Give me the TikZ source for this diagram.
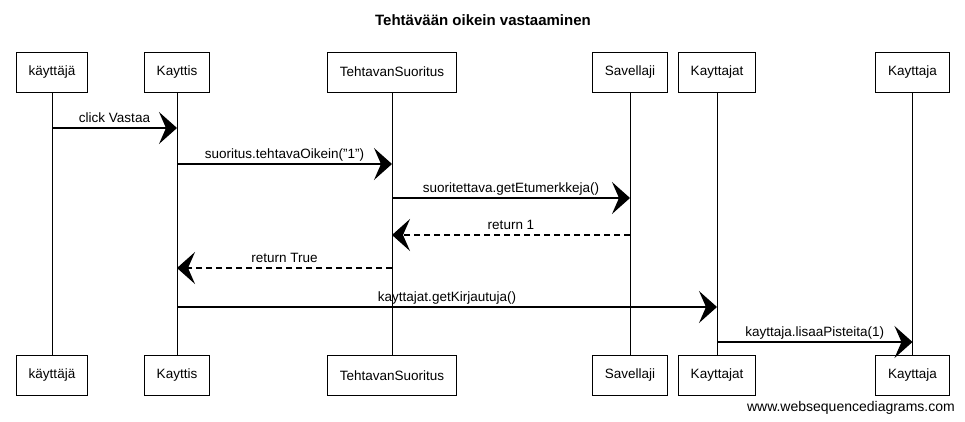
\documentclass[tikz,border=0pt]{standalone}
\usepackage{fontspec}
\setmainfont{Liberation Sans}
\usetikzlibrary{arrows.meta,positioning,calc}
\newcommand{\wsdfont}{\fontsize{13.5}{16}\selectfont}
\tikzset{
  % participant box, drawn at the top and at the bottom
  actor/.style = {rectangle, draw=black, fill=white, line width=0.8pt,
                  minimum height=40pt, inner xsep=12.5pt, font=\wsdfont},
  life/.style  = {line width=0.8pt},
  msg/.style   = {line width=1.2pt, -{Stealth[length=18pt, width=32pt, inset=7pt]}},
  ret/.style   = {msg, dash pattern=on 6pt off 4pt},
  lbl/.style   = {font=\wsdfont, above=1pt, inner sep=1pt, text depth=3pt},
}
\begin{document}
\begin{tikzpicture}[x=1pt,y=-1pt]
\useasboundingbox (0,0) rectangle (965,422);
\node[font=\bfseries\fontsize{15}{17}\selectfont] (title) at (483,20) {Tehtävään oikein vastaaminen};
% participants and lifelines
\foreach \n/\x/\t in {kay/52/käyttäjä, kis/177/Kayttis, ts/392/TehtavanSuoritus,
                      sav/630/Savellaji, kjat/717/Kayttajat, kja/912.5/Kayttaja} {
  \node[actor] (\n) at (\x,72) {\t};
  \node[actor] (\n b) at (\x,375.5) {\t};
  \draw[life] (\n) -- (\n b);
}
% calls
\foreach \a/\b/\y/\t in {kay/kis/128/click Vastaa, kis/ts/164/suoritus.tehtavaOikein("1"),
                         ts/sav/198/suoritettava.getEtumerkkeja(),
                         kis/kjat/307/kayttajat.getKirjautuja(),
                         kjat/kja/342/kayttaja.lisaaPisteita(1)}
  {\draw[msg] (\a |- 0,\y) -- node[lbl] {\t} (\b |- 0,\y);}
% returns
\draw[ret] (sav |- 0,235) -- node[lbl] {return 1} (ts |- 0,235);
\draw[ret] (ts |- 0,268) -- node[lbl] {return True} (kis |- 0,268);
\node[anchor=east, inner sep=0pt, font=\fontsize{14}{16}\selectfont] (wsd) at (955,408) {www.websequencediagrams.com};
\end{tikzpicture}
\end{document}
